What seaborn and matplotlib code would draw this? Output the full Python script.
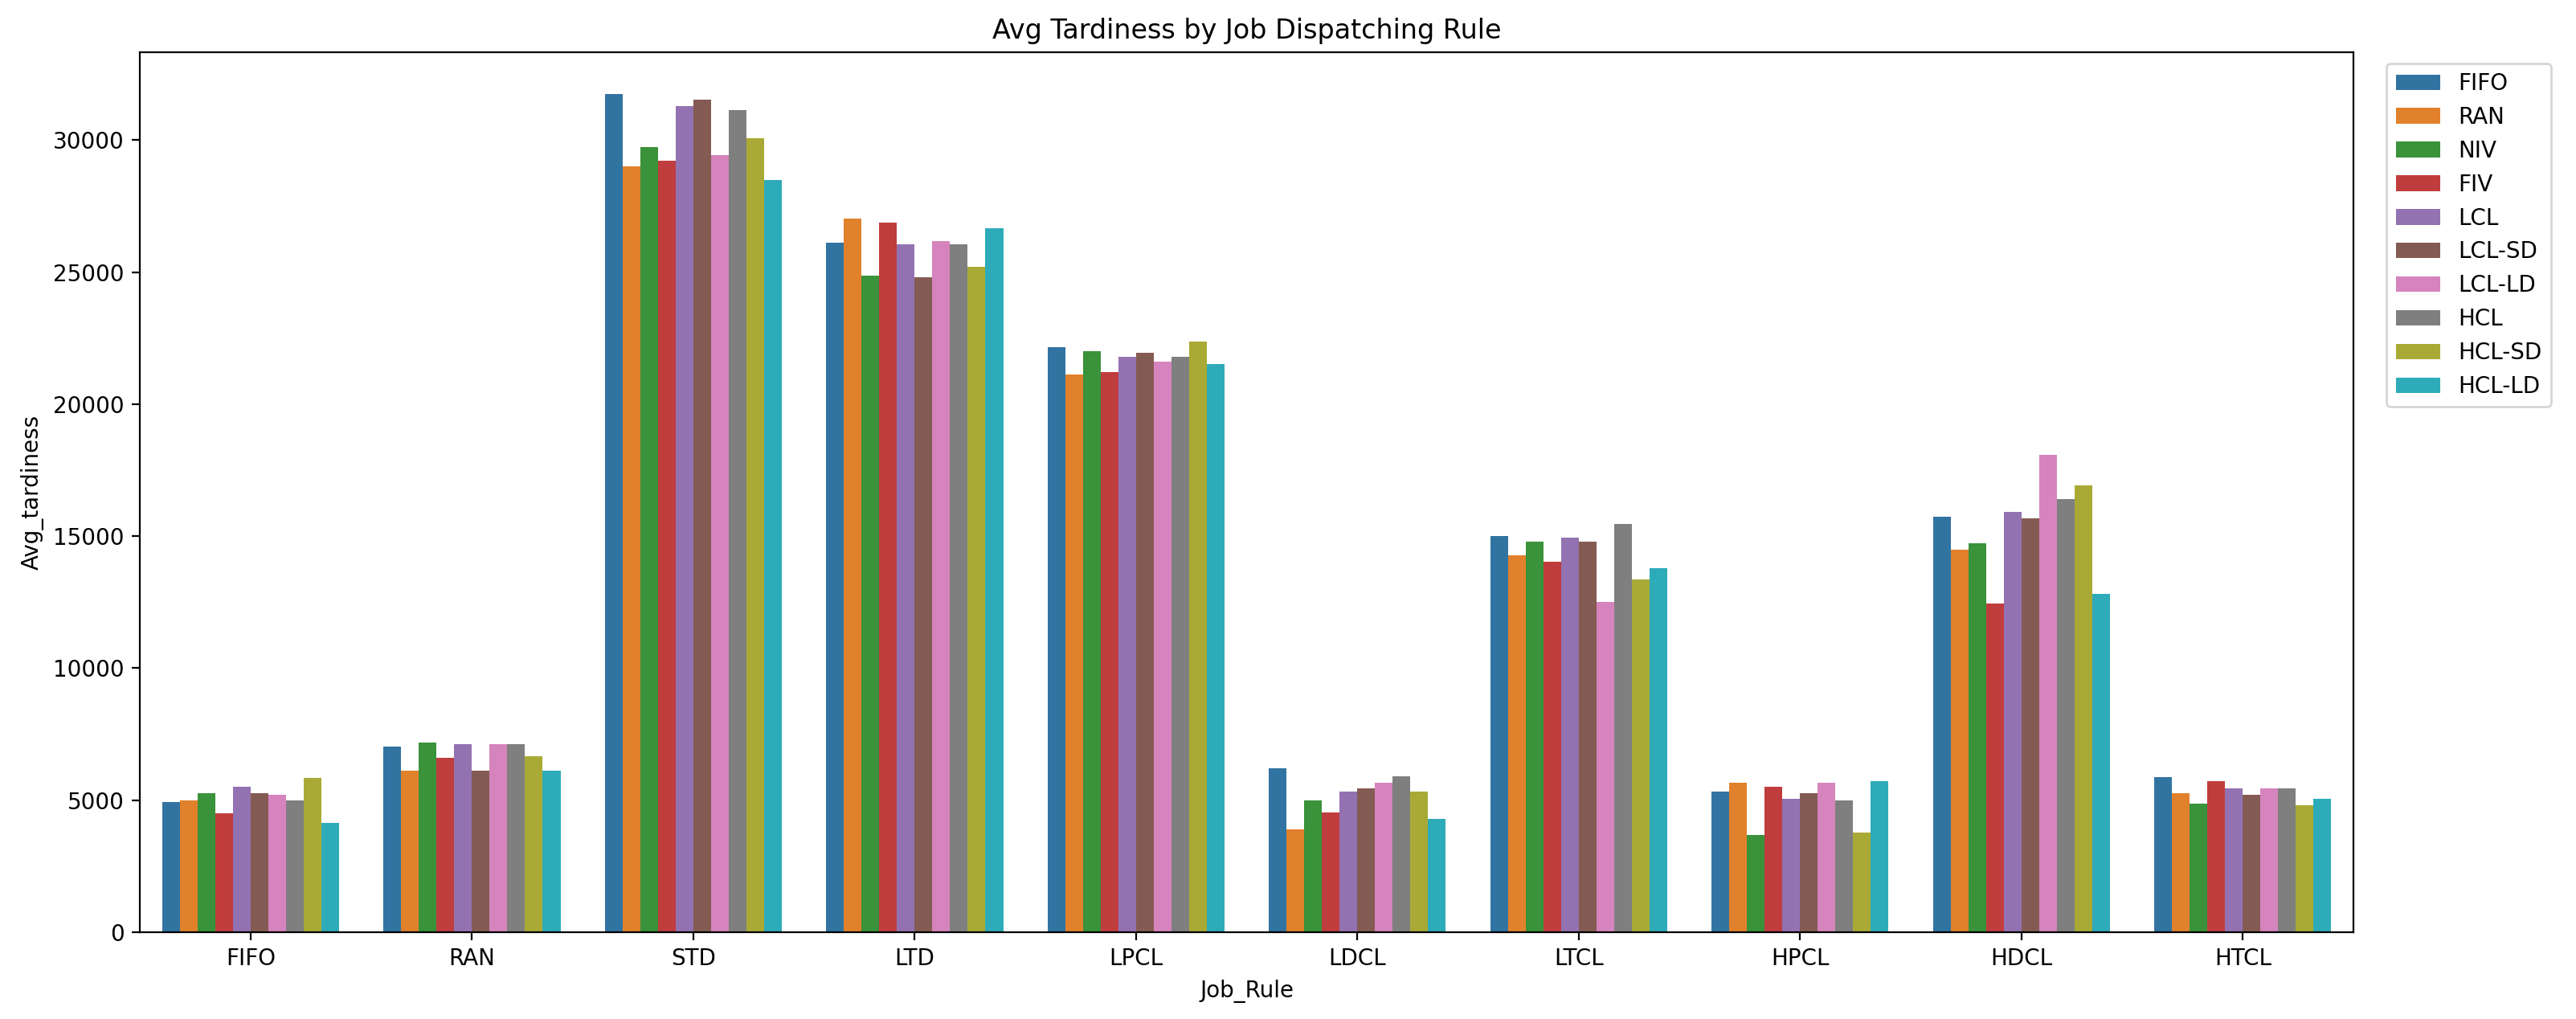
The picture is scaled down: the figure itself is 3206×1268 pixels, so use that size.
import pandas as pd
import matplotlib
matplotlib.use("Agg")
import matplotlib.pyplot as plt
import seaborn as sns

# 데이터: 작업 배정 규칙(x축) / 차량 배정 규칙(hue)
job_rules = ["FIFO", "RAN", "STD", "LTD", "LPCL", "LDCL", "LTCL", "HPCL", "HDCL", "HTCL"]
vehicle_rules = ["FIFO", "RAN", "NIV", "FIV", "LCL", "LCL-SD", "LCL-LD", "HCL", "HCL-SD", "HCL-LD"]

# 각 작업 규칙별 평균 지연 (vehicle_rules 순서)
tard_fifo = [4940, 5000, 5260, 4500, 5520, 5260, 5200, 5000, 5850, 4130]
tard_ran = [7040, 6130, 7170, 6590, 7110, 6130, 7110, 7110, 6650, 6130]
tard_std = [31740, 29020, 29740, 29230, 31280, 31520, 29430, 31130, 30060, 28500]
tard_ltd = [26110, 27040, 24870, 26870, 26060, 24800, 26190, 26060, 25190, 26650]
tard_lpcl = [22170, 21130, 22000, 21220, 21780, 21930, 21610, 21780, 22370, 21520]
tard_ldcl = [6200, 3890, 5000, 4540, 5330, 5460, 5650, 5910, 5330, 4280]
tard_ltcl = [15000, 14280, 14800, 14020, 14930, 14800, 12500, 15460, 13370, 13800]
tard_hpcl = [5330, 5650, 3690, 5520, 5060, 5260, 5650, 5000, 3760, 5720]
tard_hdcl = [15740, 14480, 14740, 12460, 15930, 15670, 18090, 16390, 16910, 12820]
tard_htcl = [5870, 5260, 4870, 5720, 5460, 5200, 5460, 5460, 4810, 5060]

all_values = [tard_fifo, tard_ran, tard_std, tard_ltd, tard_lpcl,
              tard_ldcl, tard_ltcl, tard_hpcl, tard_hdcl, tard_htcl]

rows = []
for job, vals in zip(job_rules, all_values):
    for veh, v in zip(vehicle_rules, vals):
        rows.append({"Job_Rule": job, "Vehicle_Rule": veh, "Avg_tardiness": v})
df = pd.DataFrame(rows)

fig = plt.figure(figsize=(16.03, 6.34), dpi=200)
ax = fig.add_axes([0.0543, 0.0852, 0.8593, 0.8635])

sns.barplot(data=df, x="Job_Rule", y="Avg_tardiness", hue="Vehicle_Rule",
            order=job_rules, hue_order=vehicle_rules, ax=ax)

ax.set_title("Avg Tardiness by Job Dispatching Rule")
ax.legend(bbox_to_anchor=(1.01, 1), loc="upper left")

fig.savefig("out.png", dpi=200)
